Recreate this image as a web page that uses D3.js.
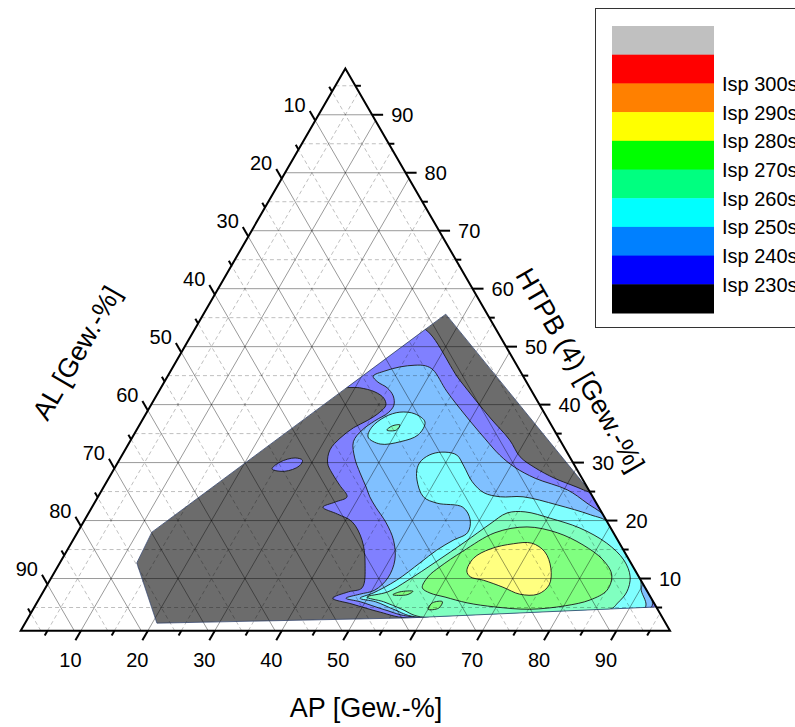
<!DOCTYPE html>
<meta charset="utf-8">
<head>
    <script type="text/javascript" src="https://cdn.jsdelivr.net/npm/d3@7"></script>
    <style>
        body { margin: 0; background: #fff; }
        svg text { font-family: "Liberation Sans", Arial, sans-serif; fill: #000; }
    </style>
</head>
<body>
<div id="chart"></div>
</body>
<script>
    // legend
    var legendColors = ["#c0c0c0", "#ff0000", "#ff8000", "#ffff00", "#00ff00",
        "#00ff80", "#00ffff", "#0080ff", "#0000ff", "#000000"];
    var legendLabels = ["Isp 300s", "Isp 290s", "Isp 280s", "Isp 270s",
        "Isp 260s", "Isp 250s", "Isp 240s", "Isp 230s"];

    // contour levels (Isp in s) and their (half transparent) fill
    var levels = [230, 240, 250, 260, 270, 280];
    var levelFills = ["#8080ff", "#80c0ff", "#80ffff", "#80ffc0", "#80ff80", "#ffff80"];
    var outsideFill = "#6c6c6c";

    // all polygons are [AP, HTPB] in Gew.-%, AL = 100 - AP - HTPB
    var hull = [[37.2, 55.6], [73.7, 25.3], [93.9, 5.1], [57.6, 3.2], [20.7, 2.3], [12.5, 12.7], [12.1, 18.0]];

    var isp230 = [
        [[34.4, 53.4], [45.0, 44.2], [52.8, 37.7], [57.6, 33.9], [60.6, 31.0], [63.8, 29.1], [67.6, 27.3],
         [70.8, 26.1], [72.9, 25.3], [74.4, 24.6], [93.9, 5.1], [57.6, 3.2], [53.1, 4.2], [48.2, 5.6],
         [44.8, 6.6], [46.6, 7.7], [48.3, 8.4], [46.8, 12.3], [44.2, 16.6], [41.1, 19.8], [38.3, 21.1],
         [35.5, 22.3], [36.9, 23.2], [38.2, 24.1], [36.1, 26.1], [33.9, 28.2], [32.4, 29.9], [31.6, 32.2],
         [32.1, 34.2], [33.2, 36.0], [34.7, 37.3], [35.8, 38.7], [36.1, 39.9], [35.2, 41.1], [33.3, 42.2],
         [30.7, 42.9], [27.6, 43.2], [30.9, 48.4]],
        [[24.6, 28.9], [25.2, 30.1], [27.1, 30.8], [28.4, 30.4], [28.4, 29.4], [26.7, 28.5]]
    ];
    var isp240 = [
        [[31.7, 44.9], [32.9, 43.9], [34.8, 42.9], [36.4, 41.5], [37.3, 39.9], [37.1, 38.6], [35.8, 37.2],
         [34.7, 35.6], [34.4, 33.6], [36.0, 30.8], [38.1, 28.2], [40.2, 25.8], [41.6, 24.1], [43.4, 22.3],
         [46.3, 19.6], [48.9, 16.6], [50.8, 13.2], [51.3, 10.1], [50.4, 8.0], [48.5, 7.3], [46.8, 6.6],
         [49.2, 6.0], [53.6, 4.6], [58.3, 3.4], [93.1, 4.9], [92.8, 6.1], [79.0, 20.3], [74.6, 23.0],
         [70.5, 25.3], [64.7, 27.3], [60.7, 29.2], [57.4, 31.3], [53.7, 34.2], [48.8, 38.2], [44.0, 42.3],
         [40.1, 46.0], [38.6, 46.7], [37.0, 46.8], [34.9, 46.5], [33.0, 45.8]]
    ];
    var isp250 = [
        [[46.2, 29.1], [46.2, 30.4], [47.2, 31.5], [49.0, 31.8], [51.0, 31.3], [53.0, 29.4], [55.6, 26.7],
         [58.3, 24.8], [61.1, 24.1], [64.5, 24.1], [70.3, 22.7], [76.1, 21.0], [79.6, 19.6], [89.0, 10.1],
         [90.2, 8.0], [92.3, 4.9], [58.7, 3.4], [55.1, 4.6], [51.5, 6.0], [48.9, 6.6], [50.4, 7.5],
         [52.8, 9.7], [54.8, 12.7], [56.2, 14.9], [57.8, 16.6], [59.3, 17.9], [58.6, 20.1], [56.4, 22.3],
         [52.2, 23.0], [49.6, 24.1], [47.2, 27.0]],
        [[36.2, 34.4], [35.9, 36.1], [37.0, 37.9], [38.8, 38.7], [41.2, 38.4], [43.4, 37.0], [43.5, 34.8],
         [41.4, 33.6], [38.6, 33.2]]
    ];
    var isp260 = [
        [[49.8, 6.8], [52.5, 7.7], [54.5, 9.7], [57.1, 12.9], [59.7, 16.3], [61.9, 19.4], [63.5, 21.3],
         [66.1, 21.5], [70.4, 20.4], [75.7, 18.7], [81.0, 16.1], [85.0, 13.2], [87.4, 10.3], [88.2, 7.7],
         [87.8, 5.8], [87.2, 4.7], [59.5, 3.4], [56.1, 4.7], [52.7, 6.0]],
        [[38.4, 35.6], [38.8, 36.3], [39.9, 36.5], [39.8, 35.6]]
    ];
    var isp270 = [
        [[57.3, 8.4], [57.2, 10.3], [58.1, 12.0], [60.2, 14.7], [63.4, 17.9], [67.7, 18.9], [72.7, 17.9],
         [77.6, 15.8], [81.9, 13.2], [84.5, 10.6], [85.1, 8.0], [83.4, 6.3], [80.2, 5.3], [75.2, 4.7],
         [69.8, 5.1], [65.3, 5.8], [61.5, 6.8], [58.9, 7.5]],
        [[53.5, 7.2], [54.3, 7.7], [56.2, 7.8], [55.6, 7.2]],
        [[60.0, 4.7], [60.1, 5.8], [61.5, 6.0], [61.5, 4.9]]
    ];
    var isp280 = [
        [[62.5, 11.3], [62.4, 13.5], [64.1, 15.1], [67.1, 16.0], [69.8, 16.1], [72.5, 14.6], [74.8, 11.8],
         [76.0, 8.9], [75.1, 7.3], [72.4, 7.3], [69.3, 8.5], [65.8, 9.7], [63.5, 10.3]]
    ];
    var levelPolys = [isp230, isp240, isp250, isp260, isp270, isp280];

    // axis ticks
    var majorTicks = d3.range(10, 100, 10);
    var minorTicks = d3.range(5, 100, 10);

    // geometry of the triangle
    var width = 795, height = 727;
    var x0 = 20.7, yBase = 630.7, side = 649.3;
    var tall = side * Math.sqrt(3) / 2;
    var frac = d3.scaleLinear().domain([1, 98]).range([0, 1]);

    function pos(ap, htpb) {
        return [x0 + side * (frac(ap) + frac(htpb) / 2), yBase - tall * frac(htpb)];
    }

    var svg = d3.select('#chart').append('svg')
        .attr('width', width)
        .attr('height', height);

    var area = d3.line().x(function (d) { return pos(d[0], d[1])[0]; })
        .y(function (d) { return pos(d[0], d[1])[1]; });
    var smooth = d3.line().x(function (d) { return pos(d[0], d[1])[0]; })
        .y(function (d) { return pos(d[0], d[1])[1]; })
        .curve(d3.curveCatmullRomClosed.alpha(0.5));

    svg.append('clipPath').attr('id', 'hullClip')
        .append('path').attr('d', area(hull) + 'Z');

    var plot = svg.append('g').attr('clip-path', 'url(#hullClip)');
    plot.append('path').attr('d', area(hull) + 'Z').attr('fill', outsideFill);

    levelPolys.forEach(function (polys, i) {
        plot.selectAll(null).data(polys).enter().append('path')
            .attr('d', smooth)
            .attr('fill', levelFills[i])
            .attr('stroke', '#1a1a1a')
            .attr('stroke-width', 0.9);
    });

    // grid
    var grid = svg.append('g');
    function gridLines(vals, cls) {
        var segs = [];
        vals.forEach(function (v) {
            segs.push([pos(v, 1), pos(v, 99 - v)]);          // AP = v
            segs.push([pos(1, v), pos(99 - v, v)]);          // HTPB = v
            segs.push([pos(99 - v, 1), pos(1, 99 - v)]);     // AL = v
        });
        grid.selectAll(null).data(segs).enter().append('line')
            .attr('x1', function (d) { return d[0][0]; })
            .attr('y1', function (d) { return d[0][1]; })
            .attr('x2', function (d) { return d[1][0]; })
            .attr('y2', function (d) { return d[1][1]; })
            .attr('stroke', '#000')
            .attr('stroke-opacity', cls === 'major' ? 0.4 : 0.25)
            .attr('stroke-dasharray', cls === 'major' ? null : '4,3')
            .attr('stroke-width', 1);
    }
    gridLines(minorTicks, 'minor');
    gridLines(majorTicks, 'major');

    svg.append('path').attr('d', area(hull) + 'Z')
        .attr('fill', 'none').attr('stroke', '#2e3f66').attr('stroke-width', 0.8);

    // triangle
    var corners = [pos(1, 1), pos(98, 1), pos(1, 98)];
    svg.append('path').attr('d', d3.line()(corners) + 'Z')
        .attr('fill', 'none').attr('stroke', '#000').attr('stroke-width', 2)
        .attr('stroke-linejoin', 'miter');

    var axes = [
        {root: function (v) { return pos(v, 1); }, dir: [-0.5, 0.866], off: [-5, 19.5], anchor: 'middle'},      // AP
        {root: function (v) { return pos(99 - v, v); }, dir: [1, 0], off: [8, 0], anchor: 'start'},            // HTPB
        {root: function (v) { return pos(1, 99 - v); }, dir: [-0.5, -0.866], off: [-4, -6], anchor: 'end'}     // AL
    ];
    var ticks = svg.append('g');
    axes.forEach(function (ax) {
        [[majorTicks, 11], [minorTicks, 5.5]].forEach(function (set) {
            ticks.selectAll(null).data(set[0]).enter().append('line')
                .attr('x1', function (v) { return ax.root(v)[0]; })
                .attr('y1', function (v) { return ax.root(v)[1]; })
                .attr('x2', function (v) { return ax.root(v)[0] + ax.dir[0] * set[1]; })
                .attr('y2', function (v) { return ax.root(v)[1] + ax.dir[1] * set[1]; })
                .attr('stroke', '#000').attr('stroke-width', 2);
        });
        ticks.selectAll(null).data(majorTicks).enter().append('text')
            .attr('x', function (v) { return ax.root(v)[0] + ax.dir[0] * 11 + ax.off[0]; })
            .attr('y', function (v) { return ax.root(v)[1] + ax.dir[1] * 11 + ax.off[1]; })
            .attr('text-anchor', ax.anchor)
            .attr('dominant-baseline', 'central')
            .style('font-size', '20px')
            .text(function (v) { return v; });
    });

    // axis titles
    svg.append('text').attr('x', 366).attr('y', 708)
        .attr('text-anchor', 'middle').attr('dominant-baseline', 'central')
        .style('font-size', '27px').text('AP [Gew.-%]');
    svg.append('text').attr('transform', 'translate(77,353) rotate(-60)')
        .attr('text-anchor', 'middle').attr('dominant-baseline', 'central')
        .style('font-size', '27px').text('AL [Gew.-%]');
    svg.append('text').attr('transform', 'translate(580,370) rotate(60)')
        .attr('text-anchor', 'middle').attr('dominant-baseline', 'central')
        .style('font-size', '27px').text('HTPB (4) [Gew.-%]');

    // legend
    var legend = svg.append('g');
    legend.append('rect').attr('x', 595.5).attr('y', 8.5).attr('width', 230).attr('height', 319)
        .attr('fill', '#fff').attr('stroke', '#333').attr('stroke-width', 1);
    var band = d3.scaleBand().domain(d3.range(legendColors.length)).range([26, 313]);
    legend.selectAll(null).data(legendColors).enter().append('rect')
        .attr('x', 612).attr('width', 102)
        .attr('y', function (d, i) { return band(i); })
        .attr('height', band.bandwidth() + 0.5)
        .attr('fill', function (d) { return d; });
    legend.selectAll(null).data(legendLabels).enter().append('text')
        .attr('x', 722)
        .attr('y', function (d, i) { return band(i + 2) + 0.5; })
        .attr('dominant-baseline', 'central')
        .style('font-size', '20px')
        .text(function (d) { return d; });
</script>
</html>
